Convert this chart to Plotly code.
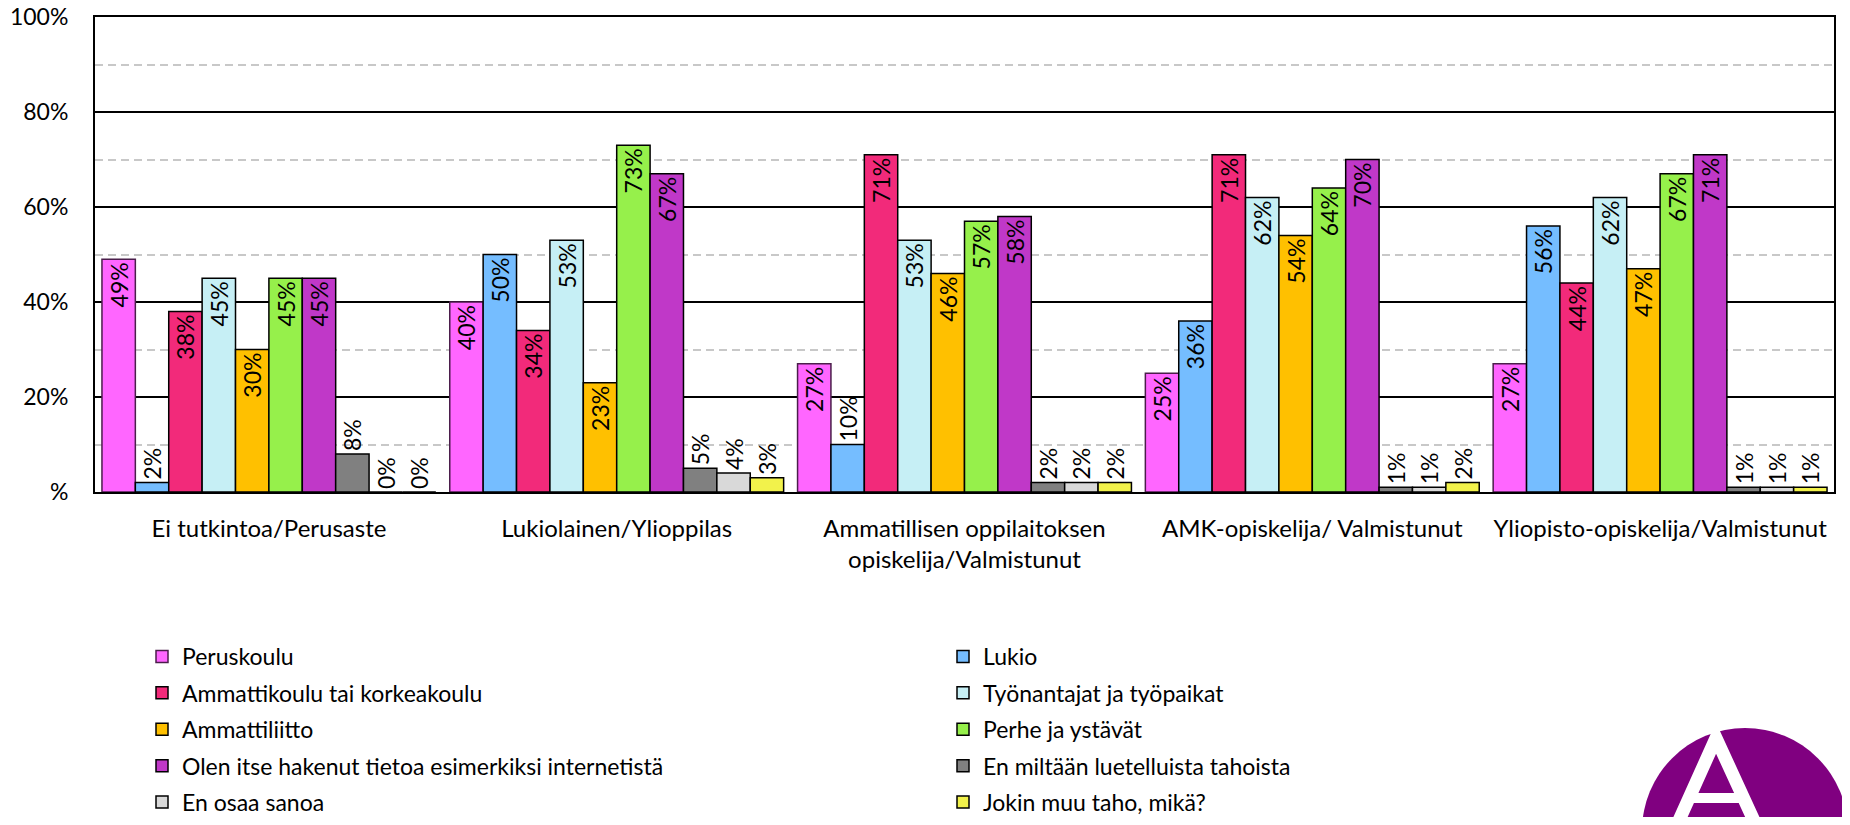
import plotly.graph_objects as go

categories = [
    "Ei tutkintoa/Perusaste",
    "Lukiolainen/Ylioppilas",
    "Ammatillisen oppilaitoksen<br>opiskelija/Valmistunut",
    "AMK-opiskelija/ Valmistunut",
    "Yliopisto-opiskelija/Valmistunut",
]

series_names = [
    "Peruskoulu",
    "Lukio",
    "Ammattikoulu tai korkeakoulu",
    "Työnantajat ja työpaikat",
    "Ammattiliitto",
    "Perhe ja ystävät",
    "Olen itse hakenut tietoa esimerkiksi internetistä",
    "En miltään luetelluista tahoista",
    "En osaa sanoa",
    "Jokin muu taho, mikä?",
]

peruskoulu = [49, 40, 27, 25, 27]
lukio = [2, 50, 10, 36, 56]
ammattikoulu = [38, 34, 71, 71, 44]
tyonantajat = [45, 53, 53, 62, 62]
ammattiliitto = [30, 23, 46, 54, 47]
perhe = [45, 73, 57, 64, 67]
itse_hakenut = [45, 67, 58, 70, 71]
en_miltaan = [8, 5, 2, 1, 1]
en_osaa = [0, 4, 2, 1, 1]
jokin_muu = [0, 3, 2, 2, 1]

y_tickvals = [0, 20, 40, 60, 80, 100]
y_ticktext = ["%", "20%", "40%", "60%", "80%", "100%"]

series_values = [peruskoulu, lukio, ammattikoulu, tyonantajat, ammattiliitto,
                 perhe, itse_hakenut, en_miltaan, en_osaa, jokin_muu]
colors = ["#FF66FF", "#75BDFF", "#F22A7A", "#C6EFF5", "#FFC000",
          "#96F04B", "#C038C8", "#808080", "#D9D9D9", "#F2F24B"]
outlines = ["#4B1E4B"] + ["#000000"] * 9

FONT = "Lato, Roboto, sans-serif"

# page has an 8px body margin, so the figure is shrunk by that much
OFF = 8
W, H = 1850 - 2 * OFF, 825 - 2 * OFF
# plot area in page pixels
L, R, T, B = 95, 1834, 17, 492


def px(x):
    return (x - L) / (R - L)


def py(y):
    return (B - y) / (B - T)


fig = go.Figure()
for i, (name, vals) in enumerate(zip(series_names, series_values)):
    fig.add_trace(go.Bar(
        x=categories, y=vals, name=name,
        marker=dict(color=colors[i], line=dict(color=outlines[i], width=1.5)),
        text=[f"{v}%" for v in vals],
        textposition=["inside" if v > 10 else "outside" for v in vals],
        insidetextanchor="end",
        textangle=-90,
        constraintext="none",
        cliponaxis=False,
        textfont=dict(color="black", size=23, family=FONT),
        legendgroup=name,
        legend="legend" if i % 2 == 0 else "legend2",
    ))

# logo
shapes = [
    dict(type="circle", xref="paper", yref="paper",
         x0=px(1642), x1=px(1848), y0=py(934), y1=py(728),
         fillcolor="#800080", line=dict(width=0), layer="above"),
    dict(type="path", xref="paper", yref="paper",
         path=f"M{px(1672)},{py(836)} L{px(1716)},{py(738)} L{px(1761)},{py(836)}",
         line=dict(color="white", width=13), layer="above"),
    dict(type="line", xref="paper", yref="paper",
         x0=px(1690), x1=px(1745), y0=py(798), y1=py(798),
         line=dict(color="white", width=10), layer="above"),
]

legend_style = dict(orientation="v", xanchor="left", yanchor="top",
                    font=dict(size=23, family=FONT, color="black"),
                    tracegroupgap=3.5, bgcolor="rgba(0,0,0,0)", itemwidth=30)

fig.update_layout(
    width=W, height=H,
    margin=dict(l=L - OFF, r=W - (R - OFF), t=T - OFF, b=H - (B - OFF), autoexpand=False),
    paper_bgcolor="white", plot_bgcolor="white",
    font=dict(family=FONT, size=24, color="black"),
    barmode="group", bargap=0.04, bargroupgap=0,
    shapes=shapes,
    legend=dict(x=px(142), y=py(635), **legend_style),
    legend2=dict(x=px(943), y=py(635), **legend_style),
    xaxis=dict(showline=True, linecolor="black", linewidth=2, mirror=True,
               ticks="", tickfont=dict(size=24, family=FONT), ticklabelstandoff=14),
    yaxis=dict(range=[0, 100], tickvals=y_tickvals, ticktext=y_ticktext,
               showline=True, linecolor="black", linewidth=2, mirror=True,
               showgrid=True, gridcolor="black", gridwidth=1.5,
               zeroline=False, ticks="", ticklabelstandoff=20,
               ticklabeloverflow="allow",
               tickfont=dict(size=23, family=FONT),
               minor=dict(dtick=10, showgrid=True, gridcolor="#C8C8C8",
                          gridwidth=1.5, griddash="8px,5px")),
)

fig.write_html("out.html")
